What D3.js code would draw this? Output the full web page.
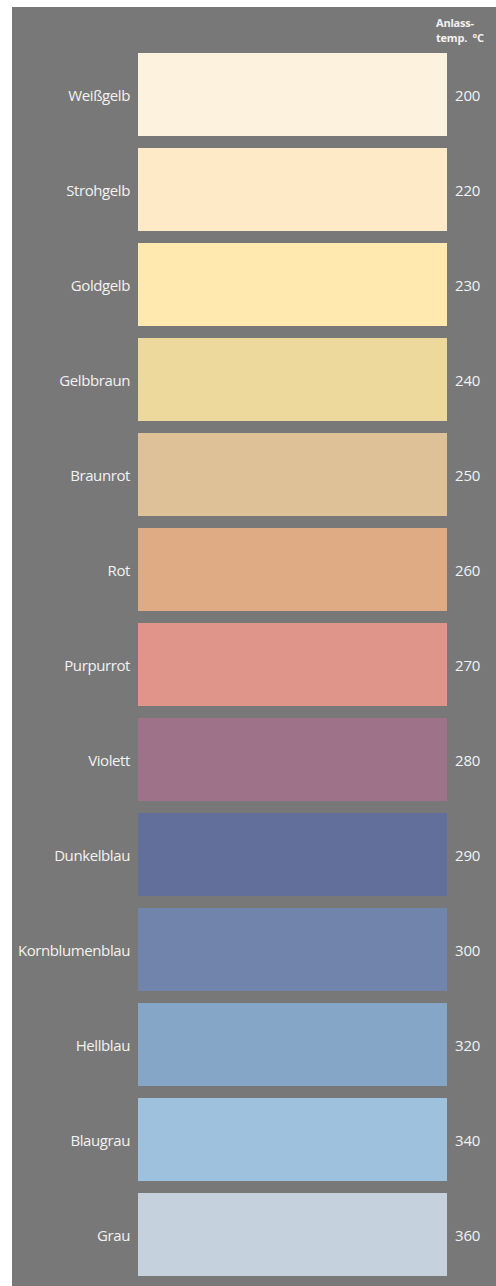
<!DOCTYPE html>
<html>
<head>
<meta charset="utf-8">
<script src="https://cdn.jsdelivr.net/npm/d3@7"></script>
<style>
  html, body { margin: 0; padding: 0; background: #fff; }
  svg { display: block; }
  text { font-family: "Open Sans", "Noto Sans", sans-serif; fill: #f2f2f2; }
</style>
</head>
<body>
<div id="chart-area"></div>
<script>
// temper colours and their temperatures
const names = ["Weißgelb", "Strohgelb", "Goldgelb", "Gelbbraun", "Braunrot", "Rot", "Purpurrot",
  "Violett", "Dunkelblau", "Kornblumenblau", "Hellblau", "Blaugrau", "Grau"];
const temps = [200, 220, 230, 240, 250, 260, 270, 280, 290, 300, 320, 340, 360];
const swatches = ["#fdf2dd", "#ffeac7", "#ffe9ae", "#eed99d", "#dfc197", "#dfab85", "#df958a",
  "#9e7289", "#616f9a", "#7184ac", "#85a6c6", "#9ec1de", "#c5d2de"];
const header = ["Anlass-", "temp.  °C"];

const width = 496, height = 1286;
const margin = { left: 12, top: 7 };
const box = { x0: 138, x1: 447, y0: 53, y1: 1276 };

const svg = d3.select("#chart-area")
  .append("svg")
  .attr("width", width)
  .attr("height", height);

svg.append("rect")
  .attr("x", margin.left)
  .attr("y", margin.top)
  .attr("width", width - margin.left)
  .attr("height", height - margin.top)
  .attr("fill", "#787878");

var y = d3.scaleBand()
  .domain(names)
  .range([box.y0, box.y1])
  .paddingInner(12 / 95)
  .paddingOuter(0);

var color = d3.scaleOrdinal()
  .domain(names)
  .range(swatches);

var rows = svg.selectAll(".row")
  .data(names.map((n, i) => ({ name: n, temp: temps[i] })))
  .enter().append("g")
  .attr("class", "row")
  .attr("transform", d => `translate(0,${y(d.name)})`);

rows.append("rect")
  .attr("x", box.x0)
  .attr("width", box.x1 - box.x0)
  .attr("height", y.bandwidth())
  .attr("fill", d => color(d.name));

rows.append("text")
  .attr("x", 130)
  .attr("y", y.bandwidth() / 2 + 1)
  .attr("dy", "0.35em")
  .attr("text-anchor", "end")
  .style("font-size", "15px")
  .style("letter-spacing", "-0.4px")
  .text(d => d.name);

rows.append("text")
  .attr("x", 455)
  .attr("y", y.bandwidth() / 2 + 1)
  .attr("dy", "0.35em")
  .style("font-size", "15px")
  .style("letter-spacing", "-0.2px")
  .text(d => d.temp);

//header, two lines
svg.selectAll(".head")
  .data(header)
  .enter().append("text")
  .attr("class", "head")
  .attr("x", 436)
  .attr("y", (d, i) => 27 + i * 15)
  .style("font-size", "11px")
  .style("font-weight", "bold")
  .style("letter-spacing", "-0.2px")
  .style("white-space", "pre")
  .text(d => d);
</script>
</body>
</html>
